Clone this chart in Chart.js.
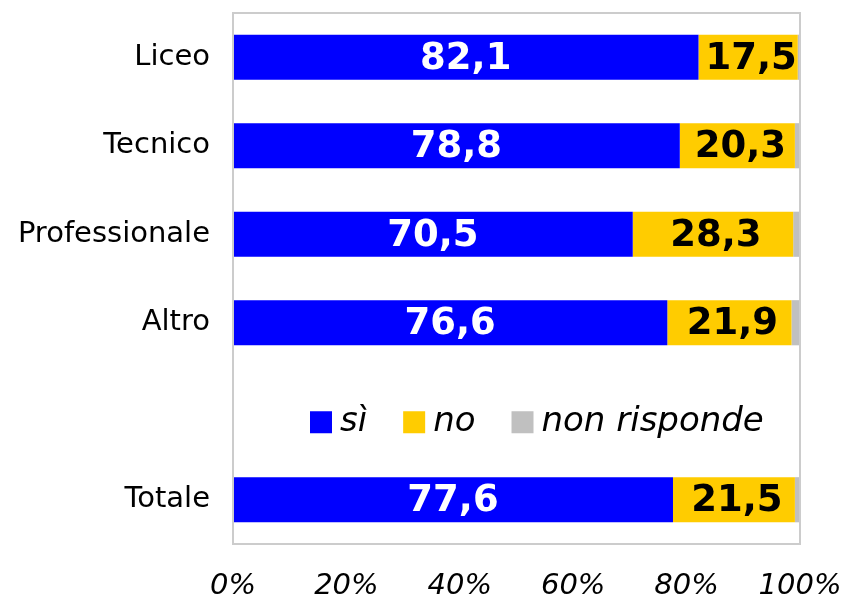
<!DOCTYPE html>
<html>
<head>
<meta charset="utf-8">
<script src="https://cdn.jsdelivr.net/npm/chart.js@4/dist/chart.umd.min.js"></script>
<style>
  html, body { margin: 0; padding: 0; background: #fff; }
  #wrap { width: 846px; height: 599px; }
</style>
</head>
<body>
<div id="wrap"><canvas id="myChart" width="846" height="599"></canvas></div>
<script>
const categories = ['Liceo', 'Tecnico', 'Professionale', 'Altro', '', 'Totale'];
const siValues = [82.1, 78.8, 70.5, 76.6, null, 77.6];
const noValues = [17.5, 20.3, 28.3, 21.9, null, 21.5];
const nonRispondeValues = [0.4, 0.9, 1.2, 1.5, null, 0.9];
const xTicks = [0, 20, 40, 60, 80, 100];

const FONT = "'DejaVu Sans', Verdana, sans-serif";

// value labels in the middle of the si / no bars
const valueLabels = {
  id: 'valueLabels',
  afterDatasetsDraw(chart) {
    const ctx = chart.ctx;
    ctx.save();
    ctx.font = 'bold 37px ' + FONT;
    ctx.textAlign = 'center';
    ctx.textBaseline = 'middle';
    [0, 1].forEach(di => {
      const meta = chart.getDatasetMeta(di);
      meta.data.forEach((bar, i) => {
        const v = chart.data.datasets[di].data[i];
        if (v == null) return;
        const p = bar.getCenterPoint();
        ctx.fillStyle = di === 0 ? '#ffffff' : '#000000';
        ctx.fillText(v.toFixed(1).replace('.', ','), p.x + (di === 1 ? 3 : 0), p.y + 2);
      });
    });
    ctx.restore();
  }
};

// grey frame around the plot area
const plotFrame = {
  id: 'plotFrame',
  afterDatasetsDraw(chart) {
    const a = chart.chartArea;
    const ctx = chart.ctx;
    ctx.save();
    ctx.strokeStyle = '#cccccc';
    ctx.lineWidth = 2;
    ctx.strokeRect(a.left, a.top, a.right - a.left, a.bottom - a.top);
    ctx.restore();
  }
};

// legend sitting in the empty row
const rowLegend = {
  id: 'rowLegend',
  afterDraw(chart) {
    const ctx = chart.ctx;
    const y = chart.scales.y.getPixelForValue(4) + 11;
    let x = 310;
    ctx.save();
    ctx.font = 'italic 34px ' + FONT;
    ctx.textBaseline = 'middle';
    chart.data.datasets.forEach(ds => {
      ctx.fillStyle = ds.backgroundColor;
      ctx.fillRect(x, y - 11, 22, 22);
      ctx.fillStyle = '#000';
      ctx.fillText(ds.label, x + 30, y);
      x += 30 + ctx.measureText(ds.label).width + 36;
    });
    ctx.restore();
  }
};

function noPadding(scale) {
  scale.paddingTop = 0;
  scale.paddingBottom = 0;
  scale.paddingLeft = 0;
  scale.paddingRight = 0;
}

new Chart(document.getElementById('myChart'), {
  type: 'bar',
  data: {
    labels: categories,
    datasets: [
      { label: 'sì', data: siValues, backgroundColor: '#0000ff' },
      { label: 'no', data: noValues, backgroundColor: '#ffcc00' },
      { label: 'non risponde', data: nonRispondeValues, backgroundColor: '#c0c0c0' }
    ]
  },
  options: {
    indexAxis: 'y',
    responsive: false,
    animation: false,
    layout: { padding: { left: 0, right: 46, top: 13, bottom: 0 } },
    datasets: { bar: { categoryPercentage: 1, barPercentage: 0.51, borderWidth: 0 } },
    plugins: {
      legend: { display: false },
      tooltip: { enabled: false }
    },
    scales: {
      x: {
        stacked: true,
        min: 0,
        max: 100,
        afterBuildTicks: scale => { scale.ticks = xTicks.map(v => ({ value: v })); },
        afterFit: scale => { scale.height = 55; noPadding(scale); },
        grid: { display: false, drawTicks: false },
        border: { display: false },
        ticks: {
          padding: 25,
          color: '#000',
          font: { family: FONT, size: 29, style: 'italic' },
          callback: v => v + '%'
        }
      },
      y: {
        stacked: true,
        afterFit: scale => { scale.width = 233; noPadding(scale); },
        grid: { display: false, drawTicks: false },
        border: { display: false },
        ticks: {
          padding: 23,
          color: '#000',
          font: { family: FONT, size: 29 }
        }
      }
    }
  },
  plugins: [valueLabels, plotFrame, rowLegend]
});
</script>
</body>
</html>
